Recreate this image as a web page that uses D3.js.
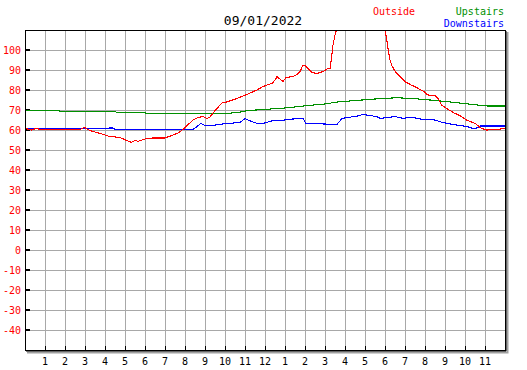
<!DOCTYPE html>
<html>
<head>
<meta charset="utf-8">
<script src="https://cdn.jsdelivr.net/npm/d3@7"></script>
<style>
  body { margin: 0; background: #fff; }
  svg { display: block; }
  text { font-family: "DejaVu Sans Mono", "Liberation Mono", monospace; }
</style>
</head>
<body>
<svg width="527" height="370"></svg>
<script>
// datos (hora del dia, temperatura)
const title = '09/01/2022';
const xTickLabels = ['1','2','3','4','5','6','7','8','9','10','11','12','1','2','3','4','5','6','7','8','9','10','11'];
const yTicks = [-40, -30, -20, -10, 0, 10, 20, 30, 40, 50, 60, 70, 80, 90, 100];

const outsideHours = [0, 0.33, 0.58, 0.75, 1.9, 2.75, 2.97, 3.25, 3.75, 4.15, 4.75, 5.15, 5.33, 5.5, 5.65, 6.0, 6.4, 7.0, 7.4, 7.65, 7.9, 8.4, 8.65, 8.9, 9.1, 9.25, 9.5, 9.85, 10.15, 10.6, 11.1, 11.6, 11.85, 12.1, 12.35, 12.5, 12.6, 12.75, 12.9, 13.05, 13.4, 13.6, 13.75, 13.9, 14.0, 14.15, 14.35, 14.6, 14.9, 15.1, 15.25, 15.3, 15.4, 15.5, 15.6, 16.0, 17.0, 17.9, 18.0, 18.08, 18.17, 18.25, 18.33, 18.42, 18.58, 18.75, 19.0, 19.25, 19.58, 19.9, 20.15, 20.5, 20.65, 20.83, 21.08, 21.4, 21.83, 22.08, 22.5, 22.83, 23.08, 23.58, 24];
const outsideTemps = [60.8, 60.0, 60.8, 60.2, 60.2, 60.3, 61.3, 59.7, 58.3, 57.0, 56.2, 54.5, 53.8, 54.8, 54.3, 55.5, 56.0, 56.0, 57.5, 58.5, 60.3, 65.0, 66.3, 66.7, 65.8, 66.5, 69.7, 73.5, 74.2, 75.8, 77.8, 80.0, 81.5, 82.5, 83.3, 85.0, 86.7, 85.5, 84.2, 86.3, 86.7, 87.8, 89.2, 92.5, 92.2, 90.8, 88.7, 88.3, 89.2, 90.5, 90.8, 94.2, 102.5, 107.5, 111, 118, 123, 118, 110, 105.8, 99.2, 95.0, 92.5, 90.8, 88.3, 86.7, 84.2, 82.8, 81.2, 79.5, 77.5, 77.2, 75.8, 72.5, 70.8, 68.8, 66.7, 65.0, 63.3, 60.8, 60.0, 60.2, 60.8];

const upstairsHours = [0, 1.7, 1.75, 4.5, 4.55, 6.0, 6.05, 10.3, 10.35, 10.75, 10.8, 11.0, 11.05, 11.55, 13.0, 14.1, 15.0, 15.6, 16.6, 17.9, 18.6, 19.3, 20.25, 21.1, 21.9, 22.6, 23.1, 24];
const upstairsTemps = [69.8, 69.8, 69.4, 69.4, 68.9, 68.9, 68.3, 68.3, 68.8, 68.8, 69.3, 69.3, 69.7, 70.0, 71.0, 72.2, 73.0, 74.0, 74.8, 75.8, 76.1, 75.8, 75.0, 74.2, 73.3, 72.5, 72.0, 72.0];

const downstairsHours = [0, 4.15, 4.2, 4.4, 4.5, 8.4, 8.6, 8.8, 9.0, 9.35, 9.75, 10.1, 10.75, 11.0, 11.35, 11.6, 12.0, 12.3, 12.75, 13.4, 13.9, 14.05, 15.6, 15.85, 16.75, 16.85, 17.6, 17.75, 18.5, 18.9, 19.3, 19.9, 20.5, 20.85, 21.4, 22.1, 22.5, 22.75, 24];
const downstairsTemps = [60.7, 60.7, 61.0, 61.0, 60.3, 60.3, 61.7, 63.3, 62.3, 62.3, 62.8, 63.3, 63.7, 65.7, 64.2, 63.3, 63.5, 64.5, 64.7, 65.5, 65.8, 63.3, 62.8, 65.8, 67.2, 67.8, 66.7, 65.8, 66.7, 65.8, 66.5, 65.2, 65.0, 63.8, 62.8, 61.7, 60.5, 62.0, 62.0];

const svg = d3.select('svg');
const plotLeft = 25, plotRight = 505, plotTop = 30, plotBottom = 350;

const x = d3.scaleLinear().domain([0, 24]).range([plotLeft, plotRight]);
const y = d3.scaleLinear().domain([-50, 110]).range([plotBottom, plotTop]);

// sombra del marco
svg.append('path')
  .attr('d', `M${plotRight + 2.5},${plotTop + 2} V${plotBottom + 2.5} H${plotLeft + 2}`)
  .attr('fill', 'none').attr('stroke', '#a0a0a0').attr('stroke-width', 2);
svg.append('path')
  .attr('d', `M${plotRight + 1},${plotTop + 1} V${plotBottom + 1} H${plotLeft + 1}`)
  .attr('fill', 'none').attr('stroke', '#000').attr('stroke-width', 1);

// rejilla
const grid = svg.append('g').attr('shape-rendering', 'crispEdges');
grid.selectAll('.vg').data(d3.range(1, 24)).enter().append('line')
  .attr('x1', d => x(d)).attr('x2', d => x(d))
  .attr('y1', plotTop).attr('y2', plotBottom)
  .attr('stroke', '#a8a8a8');
grid.selectAll('.hg').data(yTicks).enter().append('line')
  .attr('x1', plotLeft).attr('x2', plotRight)
  .attr('y1', d => y(d)).attr('y2', d => y(d))
  .attr('stroke', '#a8a8a8');

// marcas de los ejes
grid.selectAll('.yt').data(yTicks).enter().append('line')
  .attr('x1', plotLeft).attr('x2', plotLeft + 5)
  .attr('y1', d => y(d)).attr('y2', d => y(d))
  .attr('stroke', '#000').attr('stroke-width', 1.5);
grid.selectAll('.xt').data(d3.range(1, 24)).enter().append('line')
  .attr('x1', d => x(d)).attr('x2', d => x(d))
  .attr('y1', plotBottom - 4).attr('y2', plotBottom)
  .attr('stroke', '#000');

// etiquetas
svg.selectAll('.yl').data(yTicks).enter().append('text')
  .attr('x', plotLeft - 4).attr('y', d => y(d) + 3.5)
  .attr('text-anchor', 'end').attr('font-size', 10).attr('fill', '#ff0000')
  .text(d => d);
svg.selectAll('.xl').data(xTickLabels).enter().append('text')
  .attr('x', (d, i) => x(i + 1)).attr('y', 365)
  .attr('text-anchor', 'middle').attr('font-size', 10).attr('fill', '#000')
  .text(d => d);

// series
svg.append('clipPath').attr('id', 'plot')
  .append('rect').attr('x', plotLeft).attr('y', plotTop)
  .attr('width', plotRight - plotLeft).attr('height', plotBottom - plotTop);

const line = d3.line().x(d => x(d[0])).y(d => y(d[1]));
const series = [
  { hours: upstairsHours, temps: upstairsTemps, color: '#009000' },
  { hours: downstairsHours, temps: downstairsTemps, color: '#0000ff' },
  { hours: outsideHours, temps: outsideTemps, color: '#ff0000' }
];
series.forEach(s => {
  svg.append('path')
    .datum(d3.zip(s.hours, s.temps))
    .attr('clip-path', 'url(#plot)')
    .attr('d', line)
    .attr('fill', 'none')
    .attr('stroke', s.color)
    .attr('stroke-width', 1.1)
    .attr('shape-rendering', 'crispEdges');
});

// marco
svg.append('rect')
  .attr('x', plotLeft).attr('y', plotTop)
  .attr('width', plotRight - plotLeft).attr('height', plotBottom - plotTop)
  .attr('fill', 'none').attr('stroke', '#000').attr('shape-rendering', 'crispEdges');

// titulo y leyenda
svg.append('text').attr('x', 263).attr('y', 24.5).attr('text-anchor', 'middle')
  .attr('font-size', 13).attr('fill', '#000').text(title);
svg.append('text').attr('x', 373).attr('y', 14.5).attr('font-size', 10)
  .attr('fill', '#ff0000').text('Outside');
svg.append('text').attr('x', 504).attr('y', 14.5).attr('text-anchor', 'end').attr('font-size', 10)
  .attr('fill', '#009000').text('Upstairs');
svg.append('text').attr('x', 504).attr('y', 26.5).attr('text-anchor', 'end').attr('font-size', 10)
  .attr('fill', '#0000ff').text('Downstairs');
</script>
</body>
</html>
